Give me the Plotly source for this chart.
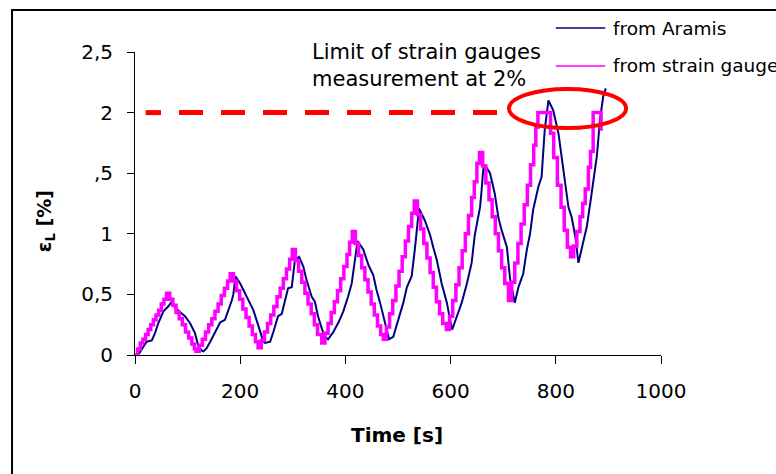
import plotly.graph_objects as go

# Longitudinal strain (%) vs time (s) during the cyclic test
# Aramis (optical) measurement
aramis_t = [6, 16, 22, 32, 38, 44, 54, 63, 70,
            76, 85, 95, 105, 114, 120, 127, 130,
            136, 143, 152, 162, 171, 177, 184, 187, 191,
            200, 212, 225, 231, 238, 244, 247,
            257, 263, 272, 279, 285, 291, 298, 304, 312,
            320, 326, 336, 342, 348, 355, 361, 367,
            377, 387, 396, 405, 412, 418, 423,
            434, 444, 453, 459, 466, 472, 479, 483,
            491, 501, 510, 517, 526, 532, 540,
            551, 561, 567, 574, 583, 593, 599, 603,
            612, 621, 631, 640, 646, 656, 659, 662, 665,
            675, 684, 691, 697, 707, 713, 722,
            729, 738, 745, 751, 757, 767, 773, 779, 786,
            795, 805, 814, 824, 830, 837, 843,
            849, 859, 868, 878, 884, 890, 895]
aramis_eps = [0.00, 0.07, 0.11, 0.12, 0.18, 0.26, 0.36, 0.40, 0.44,
              0.39, 0.36, 0.32, 0.26, 0.18, 0.08, 0.035, 0.03,
              0.055, 0.11, 0.18, 0.27, 0.29, 0.36, 0.45, 0.50, 0.65,
              0.59, 0.48, 0.37, 0.29, 0.19, 0.11, 0.10,
              0.11, 0.19, 0.32, 0.34, 0.45, 0.55, 0.56, 0.78, 0.81,
              0.73, 0.62, 0.48, 0.44, 0.32, 0.22, 0.15, 0.13,
              0.19, 0.27, 0.36, 0.48, 0.59, 0.78, 0.94,
              0.87, 0.74, 0.66, 0.54, 0.43, 0.33, 0.19, 0.13,
              0.15, 0.29, 0.43, 0.56, 0.65, 0.87, 1.21,
              1.11, 0.99, 0.89, 0.78, 0.59, 0.43, 0.29, 0.21,
              0.32, 0.43, 0.59, 0.76, 0.99, 1.22, 1.36, 1.53, 1.57,
              1.50, 1.33, 1.13, 1.03, 0.89, 0.63, 0.43,
              0.56, 0.67, 0.87, 1.00, 1.20, 1.39, 1.47, 1.86, 2.10,
              2.02, 1.83, 1.55, 1.22, 1.14, 0.98, 0.76,
              0.87, 1.06, 1.33, 1.64, 1.94, 2.13, 2.20]

# Strain gauge readings (quantised, saturating at 2 %)
gauge_t = [0, 5, 10, 15, 20, 25, 30, 35, 40, 45, 50, 55, 60,
           66, 72, 78, 84, 90, 96, 102, 108, 113, 116,
           122, 128, 134, 140, 146, 152, 158, 164, 170, 176, 181,
           187, 193, 199, 205, 211, 217, 223, 229, 234,
           240, 246, 252, 258, 264, 270, 276, 282, 288, 294, 299,
           305, 311, 317, 323, 329, 335, 341, 347, 355,
           361, 367, 373, 379, 385, 391, 397, 403, 408, 413,
           419, 425, 431, 437, 443, 449, 455, 461, 467, 472,
           478, 484, 490, 496, 502, 508, 514, 520, 526, 531,
           537, 543, 549, 555, 561, 567, 573, 579, 585, 592,
           598, 604, 610, 616, 622, 628, 634, 640, 645, 650, 655,
           661, 667, 673, 679, 685, 691, 697, 703, 710,
           716, 722, 728, 734, 740, 746, 752, 758, 762, 766,
           790, 796, 803, 810, 816, 822, 828,
           834, 840, 846, 851, 856, 862, 866, 871, 886]
gauge_eps = [0.00, 0.05, 0.10, 0.13, 0.17, 0.21, 0.25, 0.29, 0.33, 0.37, 0.42, 0.46, 0.51,
             0.46, 0.41, 0.35, 0.30, 0.25, 0.19, 0.14, 0.09, 0.05, 0.03,
             0.08, 0.13, 0.19, 0.25, 0.30, 0.36, 0.42, 0.49, 0.55, 0.61, 0.67,
             0.61, 0.53, 0.46, 0.38, 0.31, 0.24, 0.17, 0.11, 0.06,
             0.12, 0.19, 0.26, 0.33, 0.40, 0.48, 0.55, 0.63, 0.71, 0.79, 0.87,
             0.78, 0.69, 0.60, 0.51, 0.42, 0.34, 0.25, 0.17, 0.10,
             0.18, 0.26, 0.35, 0.44, 0.53, 0.63, 0.73, 0.83, 0.93, 1.02,
             0.92, 0.82, 0.72, 0.62, 0.52, 0.42, 0.33, 0.24, 0.17, 0.13,
             0.23, 0.34, 0.45, 0.57, 0.69, 0.81, 0.94, 1.06, 1.17, 1.27,
             1.16, 1.04, 0.92, 0.80, 0.68, 0.56, 0.44, 0.34, 0.26, 0.21,
             0.32, 0.45, 0.58, 0.72, 0.86, 1.00, 1.15, 1.30, 1.43, 1.58, 1.67,
             1.56, 1.42, 1.28, 1.14, 1.00, 0.86, 0.72, 0.59, 0.45,
             0.60, 0.76, 0.92, 1.08, 1.24, 1.40, 1.57, 1.73, 1.88, 2.00,
             1.83, 1.63, 1.40, 1.22, 1.03, 0.89, 0.81,
             0.90, 1.02, 1.14, 1.25, 1.37, 1.55, 1.68, 2.00, 1.85]

assert len(aramis_t) == len(aramis_eps)
assert len(gauge_t) == len(gauge_eps)

x_ticks = [0, 200, 400, 600, 800, 1000]
y_ticks = [0, 0.5, 1, 1.5, 2, 2.5]
y_tick_labels = ["0", "0,5", "1", ",5", "2", "2,5"]

series_names = ["from Aramis", "from strain gauges"]
series_colors = ["#000080", "#FF00FF"]

LIMIT_PCT = 2.0
FONT = "DejaVu Sans"

fig = go.Figure()
fig.add_trace(go.Scatter(
    x=aramis_t, y=aramis_eps, mode="lines", name=series_names[0],
    line=dict(color=series_colors[0], width=2), showlegend=False))
fig.add_trace(go.Scatter(
    x=gauge_t, y=gauge_eps, mode="lines", name=series_names[1],
    line=dict(color=series_colors[1], width=3.5, shape="hv"), showlegend=False))

shapes = [
    # outer chart frame
    dict(type="rect", xref="paper", yref="paper",
         x0=-0.2338, x1=1.35, y0=-0.5, y1=1.1386,
         line=dict(color="black", width=2), fillcolor="rgba(0,0,0,0)", layer="below"),
    # 2 % limit line of the gauges (leading short dash + regular dashes)
    dict(type="line", xref="x", yref="y", x0=20.3, x1=49.4, y0=LIMIT_PCT, y1=LIMIT_PCT,
         line=dict(color="#FF0000", width=5)),
    dict(type="line", xref="x", yref="y", x0=83.7, x1=688.2, y0=LIMIT_PCT, y1=LIMIT_PCT,
         line=dict(color="#FF0000", width=5, dash="24px,18px")),
    # highlight of the saturated region
    dict(type="circle", xref="x", yref="y", x0=711, x1=933.5, y0=1.873, y1=2.195,
         line=dict(color="#FF0000", width=4), layer="above"),
]

# legend keys
legend_rows = [1.079, 0.954]
for name, color, yy in zip(series_names, series_colors, legend_rows):
    shapes.append(dict(type="line", xref="paper", yref="paper",
                       x0=0.800, x1=0.894, y0=yy, y1=yy,
                       line=dict(color=color, width=1.5)))

annotations = []
for name, yy in zip(series_names, legend_rows):
    annotations.append(dict(xref="paper", yref="paper", x=0.905, y=yy,
                            xanchor="left", yanchor="middle", showarrow=False,
                            text=name, font=dict(family=FONT, size=18.5, color="black")))

annotations += [
    dict(xref="paper", yref="paper", x=0.3327, y=0.957, xanchor="left", yanchor="middle",
         align="left", showarrow=False,
         text="Limit of strain gauges<br>measurement at 2%",
         font=dict(family=FONT, size=21, color="black")),
    dict(xref="paper", yref="paper", x=0.498, y=-0.264, xanchor="center", yanchor="middle",
         showarrow=False, text="<b>Time [s]</b>",
         font=dict(family=FONT, size=20, color="black")),
    dict(xref="paper", yref="paper", x=-0.171, y=0.442, xanchor="center", yanchor="middle",
         showarrow=False, textangle=-90, text="<b>ε<sub>L</sub> [%]</b>",
         font=dict(family=FONT, size=19, color="black")),
]

fig.update_layout(
    width=776, height=474,
    margin=dict(l=135, r=115, t=52, b=119),
    paper_bgcolor="white", plot_bgcolor="white",
    font=dict(family=FONT, size=20, color="black"),
    shapes=shapes, annotations=annotations,
    showlegend=False,
)
fig.update_xaxes(
    range=[0, 1000], tickvals=x_ticks, ticktext=[str(v) for v in x_ticks],
    showgrid=False, zeroline=False, showline=True, linecolor="black", linewidth=1,
    ticks="outside", ticklen=8, tickcolor="black", ticklabelstandoff=10,
    tickfont=dict(family=FONT, size=20),
)
fig.update_yaxes(
    range=[0, 2.5], tickvals=y_ticks, ticktext=y_tick_labels,
    showgrid=False, zeroline=False, showline=True, linecolor="black", linewidth=1,
    ticks="outside", ticklen=7, tickcolor="black", ticklabelstandoff=10,
    tickfont=dict(family=FONT, size=20),
)

fig.write_html("out.html")
